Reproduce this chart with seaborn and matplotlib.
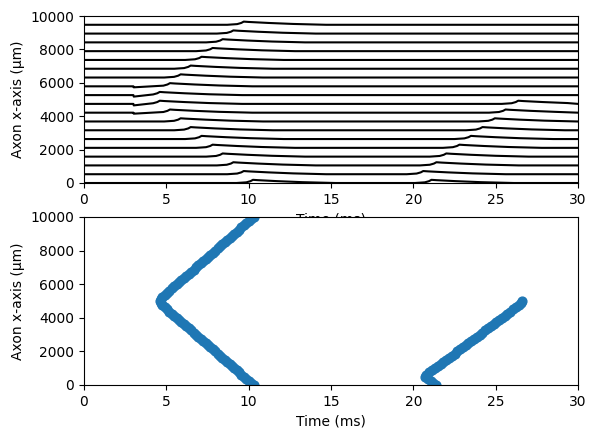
import numpy as np
import pandas as pd
import matplotlib
matplotlib.use("Agg")
import matplotlib.pyplot as plt
import seaborn as sns

# ---------------- data ----------------
# recording sites along the axon (um) for the stacked traces (top panel)
trace_pos = [0, 526, 1053, 1579, 2105, 2632, 3158, 3684, 4211, 4737,
             5263, 5789, 6316, 6842, 7368, 7895, 8421, 8947, 9474]
# peak time of the first spike at each site (ms)
spike1_peak = [10.26, 9.70, 9.07, 8.42, 7.81, 7.14, 6.48, 5.87, 5.22, 4.60,
               4.60, 5.22, 5.87, 6.48, 7.14, 7.81, 8.42, 9.07, 9.70]
# peak time of the second spike (ms), None = no second spike
spike2_peak = [21.10, 20.60, 21.40, 22.00, 22.80, 23.50, 24.20, 24.95, 25.60, 26.37,
               None, None, None, None, None, None, None, None, None]
# small drop at stimulus onset (um of trace offset)
stim_time = 3.0
stim_dip = [0, 0, 0, 0, 0, 0, 0, 0, 60, 90,
            90, 60, 0, 0, 0, 0, 0, 0, 0]
# shape of one spike deflection: time relative to peak (ms), deflection (um of trace offset)
wave_dt = [-1.0, -0.4, -0.15, 0.0, 0.3, 1.5, 3.0, 5.0]
wave_dv = [0, 40, 110, 190, 170, 110, 50, 0]
t_end = 30.0

# spike time versus position (bottom panel)
branch1_pos = [0, 125, 250, 375, 500, 625, 750, 875, 1000, 1125, 1250, 1375,
               1500, 1625, 1750, 1875, 2000, 2125, 2250, 2375, 2500, 2625,
               2750, 2875, 3000, 3125, 3250, 3375, 3500, 3625, 3750, 3875,
               4000, 4125, 4250, 4375, 4500, 4625, 4750, 4875, 5000,
               5125, 5250, 5375, 5500, 5625, 5750, 5875, 6000, 6125, 6250,
               6375, 6500, 6625, 6750, 6875, 7000, 7125, 7250, 7375, 7500,
               7625, 7750, 7875, 8000, 8125, 8250, 8375, 8500, 8625, 8750,
               8875, 9000, 9125, 9250, 9375, 9500, 9625, 9750, 9875, 10000]
branch1_time = [10.30, 10.15, 10.00, 9.85, 9.70, 9.56, 9.42, 9.27, 9.13, 8.98, 8.84, 8.69,
                8.55, 8.40, 8.26, 8.11, 7.96, 7.82, 7.67, 7.52, 7.38, 7.23,
                7.08, 6.94, 6.79, 6.65, 6.50, 6.35, 6.21, 6.06, 5.91, 5.77,
                5.62, 5.47, 5.33, 5.18, 5.03, 4.89, 4.76, 4.66, 4.60,
                4.66, 4.76, 4.89, 5.03, 5.18, 5.33, 5.47, 5.62, 5.77, 5.91,
                6.06, 6.21, 6.35, 6.50, 6.65, 6.79, 6.94, 7.08, 7.23, 7.38,
                7.52, 7.67, 7.82, 7.96, 8.11, 8.26, 8.40, 8.55, 8.69, 8.84,
                8.98, 9.13, 9.27, 9.42, 9.56, 9.70, 9.85, 10.00, 10.15, 10.30]
branch2_pos = [0, 125, 250, 375, 500, 625, 750, 875, 1000, 1125, 1250, 1375,
               1500, 1625, 1750, 1875, 2000, 2125, 2250, 2375, 2500, 2625,
               2750, 2875, 3000, 3125, 3250, 3375, 3500, 3625, 3750, 3875,
               4000, 4125, 4250, 4375, 4500, 4625, 4750, 4875, 5000]
branch2_time = [21.35, 21.22, 21.10, 20.90, 20.72, 20.78, 20.95, 21.12, 21.30, 21.48, 21.67, 21.83,
                22.00, 22.17, 22.34, 22.51, 22.68, 22.85, 23.02, 23.18, 23.35, 23.52,
                23.69, 23.86, 24.03, 24.20, 24.37, 24.53, 24.70, 24.87, 25.04, 25.21,
                25.38, 25.54, 25.71, 25.88, 26.05, 26.22, 26.39, 26.52, 26.62]

# ---------------- build tables ----------------
rows = []
for i, pos in enumerate(trace_pos):
    pts = [(0.0, 0.0)]
    if stim_dip[i] > 0:
        pts.append((stim_time, 0.0))
        pts.append((stim_time + 0.02, -stim_dip[i]))
        pts += [(spike1_peak[i] + d, v) for d, v in zip(wave_dt[1:], wave_dv[1:])]
    else:
        pts += [(spike1_peak[i] + d, v) for d, v in zip(wave_dt, wave_dv)]
    if spike2_peak[i] is not None:
        pts += [(spike2_peak[i] + d, v) for d, v in zip(wave_dt, wave_dv)]
    pts.append((t_end, 0.0))
    for t, v in pts:
        rows.append({"time": t, "y": pos + v, "trace": i})
traces = pd.DataFrame(rows)

spikes = pd.DataFrame({
    "time": branch1_time + branch2_time,
    "pos": branch1_pos + branch2_pos,
})

# ---------------- figure ----------------
W, H = 597, 438
fig = plt.figure(figsize=(W / 100, H / 100), dpi=100)
left = 84 / W
width = (578 - 84) / W
ax1 = fig.add_axes([left, 1 - 183 / H, width, 167 / H])
ax2 = fig.add_axes([left, 1 - 385 / H, width, 168 / H])

sns.lineplot(data=traces, x="time", y="y", units="trace", estimator=None,
             color="black", linewidth=1.5, legend=False, ax=ax1)
ax1.set_xlim(0, 30)
ax1.set_ylim(0, 10000)
ax1.set_xlabel("Time (ms)")
ax1.set_ylabel("Axon x-axis (\u00b5m)")

sns.scatterplot(data=spikes, x="time", y="pos", color="#1f77b4", s=40,
                edgecolor="#1f77b4", linewidth=1.0, legend=False, ax=ax2)
ax2.set_xlim(0, 30)
ax2.set_ylim(0, 10000)
ax2.set_xlabel("Time (ms)")
ax2.set_ylabel("Axon x-axis (\u00b5m)")

for ax in (ax1, ax2):
    ax.set_xticks([0, 5, 10, 15, 20, 25, 30])
    ax.set_yticks([0, 2000, 4000, 6000, 8000, 10000])

fig.savefig("out.png", dpi=100)
